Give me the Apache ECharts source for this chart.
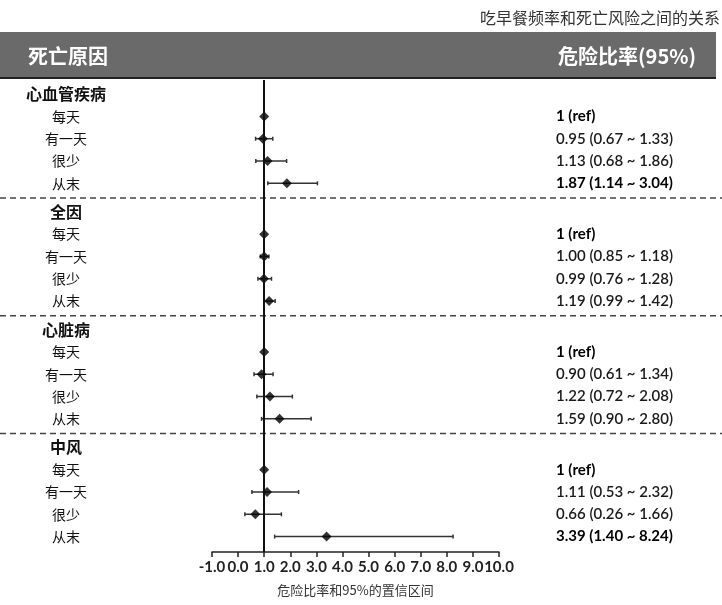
<!DOCTYPE html>
<html><head><meta charset="utf-8">
<script src="https://cdn.jsdelivr.net/npm/echarts@6/dist/echarts.min.js"></script>
<style>html,body{margin:0;padding:0;background:#fff}#c{width:722px;height:605px}</style>
</head><body><div id="c"></div>
<script>
const chartTitle = '吃早餐频率和死亡风险之间的关系';
const headerLeft = '死亡原因';
const headerRight = '危险比率(95%)';
const axisName = '危险比率和95%的置信区间';
const groups = ['心血管疾病', '全因', '心脏病', '中风'];
const levels = ['每天', '有一天', '很少', '从末'];
const hr = [[1, 0.95, 1.13, 1.87], [1, 1.00, 0.99, 1.19], [1, 0.90, 1.22, 1.59], [1, 1.11, 0.66, 3.39]];
const lo = [[1, 0.67, 0.68, 1.14], [1, 0.85, 0.76, 0.99], [1, 0.61, 0.72, 0.90], [1, 0.53, 0.26, 1.40]];
const hi = [[1, 1.33, 1.86, 3.04], [1, 1.18, 1.28, 1.42], [1, 1.34, 2.08, 2.80], [1, 2.32, 1.66, 8.24]];
const isRef = [[true, false, false, false], [true, false, false, false], [true, false, false, false], [true, false, false, false]];
const xMin = -1, xMax = 10, xInterval = 1;

// layout (row slots): each group takes 5 rows plus a small gap
const GROUP_SPAN = 5.28;
const DIVIDER_OFFSET = 4.66;

const pts = [];
const errs = [];
groups.forEach((g, gi) => {
  levels.forEach((lv, li) => {
    const y = gi * GROUP_SPAN + li + 1;
    pts.push([hr[gi][li], y]);
    if (!isRef[gi][li]) errs.push([hr[gi][li], y, lo[gi][li], hi[gi][li]]);
  });
});

const chart = echarts.init(document.getElementById('c'));
chart.setOption({
  animation: false,
  grid: { left: 212, right: 223, top: 80, bottom: 53 },
  xAxis: {
    type: 'value', min: xMin, max: xMax, interval: xInterval,
    splitLine: { show: false },
    axisLine: { show: true, onZero: false, lineStyle: { color: '#222', width: 1.5 } },
    axisTick: { show: true, length: 5, lineStyle: { color: '#222', width: 1.5 } },
    axisLabel: { formatter: v => v.toFixed(1), color: '#222', fontSize: 15, fontWeight: 'bold', fontFamily: 'Lato', margin: 8 },
    name: axisName, nameLocation: 'middle', nameGap: 32,
    nameTextStyle: { color: '#333', fontSize: 13, fontFamily: 'Noto Sans CJK SC' }
  },
  yAxis: {
    type: 'value', inverse: true, min: -0.632, max: 20.53,
    show: false
  },
  series: [
    {
      type: 'custom',
      data: errs,
      renderItem: function (params, api) {
        const y = api.value(1);
        const a = api.coord([api.value(2), y]);
        const b = api.coord([api.value(3), y]);
        const st = { stroke: '#333', lineWidth: 1.5 };
        return {
          type: 'group',
          children: [
            { type: 'line', shape: { x1: a[0], y1: a[1], x2: b[0], y2: b[1] }, style: st },
            { type: 'line', shape: { x1: a[0], y1: a[1] - 2, x2: a[0], y2: a[1] + 2 }, style: st },
            { type: 'line', shape: { x1: b[0], y1: b[1] - 2, x2: b[0], y2: b[1] + 2 }, style: st }
          ]
        };
      },
      markLine: {
        silent: true, symbol: 'none', label: { show: false },
        lineStyle: { color: '#111', width: 2, type: 'solid' },
        data: [{ xAxis: 1 }]
      },
      z: 2
    },
    {
      type: 'scatter',
      data: pts,
      symbol: 'diamond',
      symbolSize: 10,
      itemStyle: { color: '#000' },
      z: 3
    }
  ]
});

const gfx = [];
// title
gfx.push({ type: 'text', style: { text: chartTitle, x: 720, y: 18, textAlign: 'right', textVerticalAlign: 'middle', fill: '#333', fontSize: 16, fontFamily: 'Noto Sans CJK SC' } });
// header bar
gfx.push({ type: 'rect', shape: { x: 0, y: 32, width: 716, height: 45 }, style: { fill: '#6a6a6a' } });
gfx.push({ type: 'rect', shape: { x: 0, y: 77, width: 716, height: 2 }, style: { fill: '#222' } });
gfx.push({ type: 'text', style: { text: headerLeft, x: 28, y: 56, textVerticalAlign: 'middle', fill: '#fff', fontSize: 20, fontWeight: 'bold', fontFamily: 'Noto Sans CJK SC' } });
gfx.push({ type: 'text', style: { text: headerRight, x: 696, y: 56, textAlign: 'right', textVerticalAlign: 'middle', fill: '#fff', fontSize: 20, fontWeight: 'bold', fontFamily: 'Noto Sans CJK SC' } });

const py = v => chart.convertToPixel({ yAxisIndex: 0 }, v);
groups.forEach((g, gi) => {
  const y0 = py(gi * GROUP_SPAN);
  gfx.push({ type: 'text', style: { text: g, x: 66, y: y0, textAlign: 'center', textVerticalAlign: 'middle', fill: '#111', fontSize: 16, fontWeight: 'bold', fontFamily: 'Noto Sans CJK SC' } });
  levels.forEach((lv, li) => {
    const y = py(gi * GROUP_SPAN + li + 1);
    gfx.push({ type: 'text', style: { text: lv, x: 66, y: y, textAlign: 'center', textVerticalAlign: 'middle', fill: '#111', fontSize: 14, fontFamily: 'Noto Sans CJK SC' } });
    const txt = isRef[gi][li] ? '1 (ref)' :
      hr[gi][li].toFixed(2) + ' (' + lo[gi][li].toFixed(2) + ' ~ ' + hi[gi][li].toFixed(2) + ')';
    const strong = isRef[gi][li] || lo[gi][li] > 1;
    gfx.push({ type: 'text', style: { text: txt, x: 556, y: y, textVerticalAlign: 'middle', fill: strong ? '#000' : '#1a1a1a', fontSize: 15, fontWeight: strong ? 'bold' : 600, fontFamily: 'Lato' } });
  });
  if (gi < groups.length - 1) {
    const yd = py(gi * GROUP_SPAN + DIVIDER_OFFSET);
    gfx.push({ type: 'line', shape: { x1: 0, y1: yd, x2: 722, y2: yd }, style: { stroke: '#444', lineWidth: 1.5, lineDash: [6, 4] } });
  }
});
chart.setOption({ graphic: { elements: gfx } });
</script>
</body></html>
